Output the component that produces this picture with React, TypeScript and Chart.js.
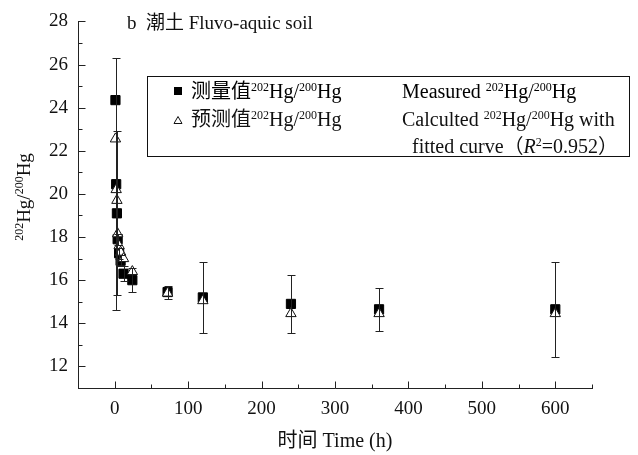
import React, { useEffect, useRef } from "react";
import { Chart, registerables } from "chart.js";
Chart.register(...registerables);

// ---- data ----
const timeH = [1, 2, 3, 4, 6, 8, 12, 24, 72, 120, 240, 360, 600];
const measured = [24.35, 20.45, 19.1, 17.9, 17.25, 16.9, 16.3, 16.0, 15.45, 15.2, 14.9, 14.65, 14.65];
const measuredErr = [0, 5.85, 3.8, 0.25, 0.25, 0.25, 0.35, 0.55, 0.3, 1.65, 1.35, 1.0, 2.2];
const predicted = [22.55, 20.2, 19.7, 18.15, 17.6, 17.3, 17.0, 16.4, 15.4, 15.05, 14.45, 14.45, 14.45];
const xMajorTicks = [0, 100, 200, 300, 400, 500, 600];
const xMinorTicks = [50, 150, 250, 350, 450, 550, 650];
const yMajorTicks = [12, 14, 16, 18, 20, 22, 24, 26, 28];
const yMinorTicks = [13, 15, 17, 19, 21, 23, 25, 27];

const FONT = '"Liberation Serif", "Noto Sans CJK SC", serif';

type Seg = { t: string; sup?: boolean; it?: boolean };

function richWidth(ctx: CanvasRenderingContext2D, segs: Seg[], size: number) {
  let w = 0;
  for (const s of segs) {
    const fs = s.sup ? Math.round(size * 0.62) : size;
    ctx.font = `${s.it ? "italic " : ""}${fs}px ${FONT}`;
    w += ctx.measureText(s.t).width;
  }
  return w;
}

function drawRich(ctx: CanvasRenderingContext2D, segs: Seg[], x: number, y: number, size: number) {
  let cx = x;
  ctx.textAlign = "left";
  ctx.textBaseline = "alphabetic";
  for (const s of segs) {
    const fs = s.sup ? Math.round(size * 0.62) : size;
    ctx.font = `${s.it ? "italic " : ""}${fs}px ${FONT}`;
    const dy = s.sup ? -size * 0.36 : 0;
    ctx.fillText(s.t, cx, y + dy);
    cx += ctx.measureText(s.t).width;
  }
  return cx - x;
}

const decorPlugin = {
  id: "decor",
  afterDatasetsDraw(chart: any) {
    const ctx: CanvasRenderingContext2D = chart.ctx;
    const xs = chart.scales.x;
    const ys = chart.scales.y;
    ctx.save();
    ctx.strokeStyle = "#222";
    ctx.lineWidth = 1;
    for (let i = 0; i < timeH.length; i++) {
      const e = measuredErr[i];
      if (!e) continue;
      const x = Math.round(xs.getPixelForValue(timeH[i])) + 0.5;
      const y1 = Math.round(ys.getPixelForValue(measured[i] + e)) + 0.5;
      const y2 = Math.round(ys.getPixelForValue(measured[i] - e)) + 0.5;
      ctx.beginPath();
      ctx.moveTo(x, y1);
      ctx.lineTo(x, y2);
      ctx.moveTo(x - 4, y1);
      ctx.lineTo(x + 4, y1);
      ctx.moveTo(x - 4, y2);
      ctx.lineTo(x + 4, y2);
      ctx.stroke();
    }
    ctx.restore();
  },
  afterDraw(chart: any) {
    const ctx: CanvasRenderingContext2D = chart.ctx;
    const xs = chart.scales.x;
    const ys = chart.scales.y;
    const area = chart.chartArea;
    ctx.save();
    ctx.strokeStyle = "#222";
    ctx.lineWidth = 1;
    ctx.beginPath();
    const left = Math.round(area.left) + 0.5;
    const bottom = Math.round(area.bottom) + 0.5;
    for (const v of yMajorTicks) {
      const y = Math.round(ys.getPixelForValue(v)) + 0.5;
      ctx.moveTo(left, y);
      ctx.lineTo(left + 7, y);
    }
    for (const v of yMinorTicks) {
      const y = Math.round(ys.getPixelForValue(v)) + 0.5;
      ctx.moveTo(left, y);
      ctx.lineTo(left + 4, y);
    }
    for (const v of xMajorTicks) {
      const x = Math.round(xs.getPixelForValue(v)) + 0.5;
      ctx.moveTo(x, bottom);
      ctx.lineTo(x, bottom - 7);
    }
    for (const v of xMinorTicks) {
      const x = Math.round(xs.getPixelForValue(v)) + 0.5;
      ctx.moveTo(x, bottom);
      ctx.lineTo(x, bottom - 4);
    }
    ctx.stroke();

    ctx.fillStyle = "#111";
    // panel title
    drawRich(ctx, [{ t: "b  潮土 Fluvo-aquic soil" }], 127, 29, 19);

    // x axis title
    const xt: Seg[] = [{ t: "时间 Time (h)" }];
    const xw = richWidth(ctx, xt, 20);
    drawRich(ctx, xt, (area.left + area.right) / 2 - xw / 2, 447, 20);

    // y axis title (rotated)
    const yt: Seg[] = [{ t: "202", sup: true }, { t: "Hg/" }, { t: "200", sup: true }, { t: "Hg" }];
    const yw = richWidth(ctx, yt, 19);
    ctx.save();
    ctx.translate(22, 197);
    ctx.rotate(-Math.PI / 2);
    drawRich(ctx, yt, -yw / 2, 8, 19);
    ctx.restore();

    // legend box
    ctx.strokeStyle = "#111";
    ctx.strokeRect(147.5, 76.5, 482, 80);
    // row 1
    ctx.fillStyle = "#000";
    ctx.fillRect(174, 87, 8, 8);
    drawRich(ctx, [{ t: "测量值" }, { t: "202", sup: true }, { t: "Hg/" }, { t: "200", sup: true }, { t: "Hg" }], 191, 98, 20);
    drawRich(ctx, [{ t: "Measured " }, { t: "202", sup: true }, { t: "Hg/" }, { t: "200", sup: true }, { t: "Hg" }], 402, 98, 20);
    // row 2
    ctx.beginPath();
    ctx.moveTo(178, 116.5);
    ctx.lineTo(182, 123.5);
    ctx.lineTo(174, 123.5);
    ctx.closePath();
    ctx.stroke();
    ctx.fillStyle = "#111";
    drawRich(ctx, [{ t: "预测值" }, { t: "202", sup: true }, { t: "Hg/" }, { t: "200", sup: true }, { t: "Hg" }], 191, 126, 20);
    drawRich(ctx, [{ t: "Calculted " }, { t: "202", sup: true }, { t: "Hg/" }, { t: "200", sup: true }, { t: "Hg with" }], 402, 126, 20);
    // row 3
    drawRich(ctx, [{ t: "fitted curve（" }, { t: "R", it: true }, { t: "2", sup: true }, { t: "=0.952）" }], 412, 153, 20);
    ctx.restore();
  },
};

export default function App() {
  const ref = useRef<HTMLCanvasElement | null>(null);
  useEffect(() => {
    if (!ref.current) return;
    const chart = new Chart(ref.current, {
      type: "scatter",
      data: {
        datasets: [
          {
            label: "预测值",
            data: timeH.map((t, i) => ({ x: t, y: predicted[i] })),
            pointStyle: "triangle",
            pointRadius: 6,
            backgroundColor: "#fff",
            borderColor: "#111",
            borderWidth: 1,
            order: 0,
          },
          {
            label: "测量值",
            data: timeH.map((t, i) => ({ x: t, y: measured[i] })),
            pointStyle: "rect",
            pointRadius: 6.5,
            backgroundColor: "#000",
            borderColor: "#000",
            borderWidth: 1,
            order: 1,
          },
        ],
      },
      options: {
        animation: false,
        responsive: false,
        maintainAspectRatio: false,
        layout: { padding: { top: 19, right: 46, left: 0, bottom: 0 } },
        plugins: { legend: { display: false }, tooltip: { enabled: false } },
        scales: {
          x: {
            type: "linear",
            min: -50,
            max: 650,
            afterBuildTicks: (ax: any) => {
              ax.ticks = xMajorTicks.map((v) => ({ value: v }));
            },
            afterFit: (ax: any) => {
              ax.height = 67;
            },
            grid: { display: false, drawTicks: false },
            border: { display: true, color: "#222", width: 1 },
            ticks: { font: { family: FONT, size: 19 }, color: "#111", padding: 10, maxRotation: 0 },
          },
          y: {
            type: "linear",
            min: 11,
            max: 28,
            afterBuildTicks: (ax: any) => {
              ax.ticks = yMajorTicks.map((v) => ({ value: v }));
            },
            afterFit: (ax: any) => {
              ax.width = 78;
            },
            grid: { display: false, drawTicks: false },
            border: { display: true, color: "#222", width: 1 },
            ticks: { font: { family: FONT, size: 19 }, color: "#111", padding: 10 },
          },
        },
      },
      plugins: [decorPlugin],
    });
    return () => chart.destroy();
  }, []);
  return (
    <div style={{ position: "fixed", left: 0, top: 0, width: 638, height: 455, background: "#fff" }}>
      <canvas ref={ref} width={638} height={455} style={{ width: 638, height: 455, display: "block" }} />
    </div>
  );
}
